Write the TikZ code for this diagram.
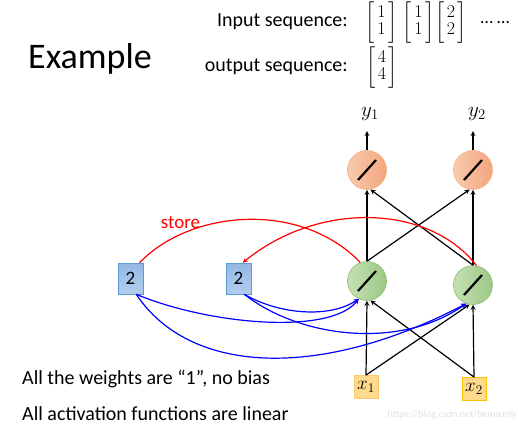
\RequirePackage{fix-cm}
\documentclass[tikz,border=0pt]{standalone}
\usepackage{amsmath}
\usepackage{fontspec}
\setmainfont{Carlito}
\setlength{\arraycolsep}{2.5pt}
\renewcommand{\arraystretch}{0.92}
\definecolor{outL}{HTML}{F8CBAD}
\definecolor{outR}{HTML}{F3A57E}
\definecolor{outB}{HTML}{F4B183}
\definecolor{hidL}{HTML}{C5E0B4}
\definecolor{hidR}{HTML}{9CC884}
\definecolor{hidB}{HTML}{8CBF6E}
\definecolor{memT}{HTML}{93B8E4}
\definecolor{memD}{HTML}{B2CEEE}
\definecolor{memB}{HTML}{5B9BD5}
\definecolor{inF}{HTML}{FFD98C}
\definecolor{inB}{HTML}{FFC000}
\begin{document}
\begin{tikzpicture}[>=stealth, x=1pt, y=-1pt,
  txt/.style={inner sep=0pt, font=\fontsize{20}{20}\selectfont},
  seq/.style={inner sep=0pt, font=\fontsize{18}{19}\selectfont},
  neuron/.style={circle, minimum size=39pt, inner sep=0pt, line width=0.6pt},
  outn/.style={neuron, draw=outB, left color=outL, right color=outR},
  hidn/.style={neuron, draw=hidB, left color=hidL, right color=hidR},
  slash/.style={line width=2.2pt},
  memory/.style={draw=memB, line width=0.6pt, top color=memT, bottom color=memD,
    minimum width=25pt, minimum height=31pt, inner sep=0pt, font=\fontsize{19}{19}\selectfont},
  inbox/.style={fill=inF, line width=0.8pt, minimum width=24pt, minimum height=23pt,
    inner sep=0pt, font=\fontsize{19}{19}\selectfont},
  ylab/.style={font=\fontsize{21}{21}\selectfont},
  conn/.style={line width=1.2pt},
  storeline/.style={red, line width=1.2pt},
  readline/.style={blue, line width=1.2pt, ->}]
\useasboundingbox (0,0) rectangle (519,425);

% title and sequences
\node[txt, anchor=base west, font=\fontsize{36}{36}\selectfont] (title) at (28,69) {Example};
\node[txt, anchor=base east] (inlab) at (348,27) {Input sequence:};
\node[txt, anchor=base east] (outlab) at (348,71.5) {output sequence:};
\node[seq] (in1) at (381.5,22.5) {$\left[\begin{array}{c}1\\1\end{array}\right]$};
\node[seq] (in2) at (418.5,22.5) {$\left[\begin{array}{c}1\\1\end{array}\right]$};
\node[seq] (in3) at (451,22.5) {$\left[\begin{array}{c}2\\2\end{array}\right]$};
\node[txt, anchor=base, font=\fontsize{18}{18}\selectfont] (dots) at (495,24) {…\ …};
\node[seq] (out1) at (382,67.5) {$\left[\begin{array}{c}4\\4\end{array}\right]$};

% network
\node[ylab] (y1) at (370,114) {$y_1$};
\node[ylab] (y2) at (477,114) {$y_2$};
\node[outn] (o1) at (367,170) {};
\node[outn] (o2) at (473,170) {};
\node[hidn] (g1) at (367,281) {};
\node[hidn] (g2) at (473,285) {};
\foreach \n in {o1,o2,g1,g2}
  \draw[slash] ([shift={(-9,10)}]\n.center) -- ([shift={(9,-10)}]\n.center);
\node[inbox, draw=inF!80!orange] (x1) at (366,387) {$x_1$};
\node[inbox, draw=inB] (x2) at (474,389) {$x_2$};

% memory cells
\node[memory] (b1) at (130.5,278.5) {2};
\node[memory] (b2) at (238.5,278.5) {2};

\draw[conn, ->, shorten >=7pt] (o1.north) -- (o1.north |- y1.south);
\draw[conn, ->, shorten >=7pt] (o2.north) -- (o2.north |- y2.south);
\draw[conn, ->] (g1.north) -- (o1.south);
\draw[conn, ->] (g1.north) -- (o2.260);
\draw[conn, ->] (g2.north) -- (o2.south);
\draw[conn, ->] (g2.north) -- (o1.280);
\draw[conn, ->] (x1.north) -- (g1.south);
\draw[conn, ->] (x1.north) -- (g2.260);
\draw[conn, ->] (x2.north) -- (g2.south);
\draw[conn, ->] (x2.north) -- (g1.280);

% store
\draw[storeline] (b1.60) .. controls (190,210) and (300,200) .. (g1.110);
\draw[storeline, ->] (g2.80) .. controls (430,205) and (320,200) .. (b2.75);
\node[anchor=base, text=red, inner sep=0pt, font=\fontsize{19}{19}\selectfont] (storelab) at (180.5,228) {store};

% read back
\draw[readline] (b1.-70) .. controls (210,325) and (330,335) .. (g1.245);
\draw[readline] (b1.-70) .. controls (190,375) and (320,380) .. (g2.250);
\draw[readline] (b2.-70) .. controls (280,315) and (330,318) .. (g1.245);
\draw[readline] (b2.-70) .. controls (300,338) and (400,350) .. (g2.250);

% notes
\node[txt, anchor=base west] (note1) at (22,384) {All the weights are “1”, no bias};
\node[txt, anchor=base west] (note2) at (22,420.5) {All activation functions are linear};
\node[anchor=base east, inner sep=0pt, text=black!12, font=\fontsize{10}{10}\selectfont] (wm) at (517,417) {https://blog.csdn.net/hemsunly};
\end{tikzpicture}
\end{document}
